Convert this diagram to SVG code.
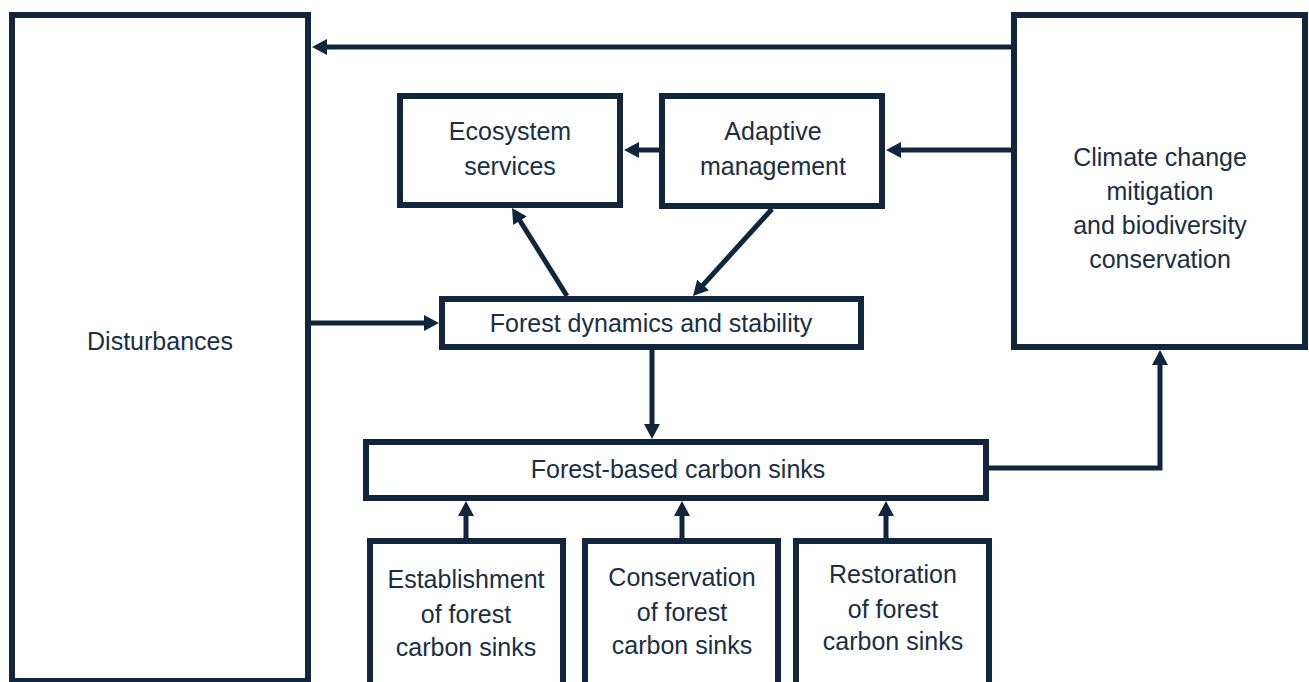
<svg xmlns="http://www.w3.org/2000/svg" width="1309" height="682" viewBox="0 0 1309 682">
<style>
.box{fill:#ffffff;stroke:#11263c;stroke-width:6}
.lbl{font-family:"Liberation Sans",Arial,sans-serif;font-size:25px;fill:#1a2e44;text-anchor:middle}
.con{fill:none;stroke:#11263c;stroke-width:5;marker-end:url(#ah)}
</style>
<defs>
<marker id="ah" viewBox="0 -8 15 16" refX="3" refY="0" markerWidth="15" markerHeight="16" markerUnits="userSpaceOnUse" orient="auto">
<path d="M0,-8 L15,0 L0,8 z" fill="#11263c"/>
</marker>
</defs>
<rect width="1309" height="682" fill="#ffffff"/>
<g id="disturbances"><rect class="box" x="12" y="15" width="296" height="666"/><text class="lbl" x="160" y="350">Disturbances</text></g>
<g id="climate"><rect class="box" x="1014" y="15" width="291" height="332"/>
<text class="lbl" x="1160" y="166">Climate change</text><text class="lbl" x="1160" y="200">mitigation</text><text class="lbl" x="1160" y="234">and biodiversity</text><text class="lbl" x="1160" y="268">conservation</text></g>
<g id="ecosystem"><rect class="box" x="400" y="96" width="220" height="109"/><text class="lbl" x="510" y="140">Ecosystem</text><text class="lbl" x="510" y="175">services</text></g>
<g id="adaptive"><rect class="box" x="662" y="96" width="220" height="110"/><text class="lbl" x="773" y="140">Adaptive</text><text class="lbl" x="773" y="175">management</text></g>
<g id="dynamics"><rect class="box" x="442" y="299" width="419" height="48"/><text class="lbl" x="651" y="332">Forest dynamics and stability</text></g>
<g id="sinks"><rect class="box" x="366" y="442" width="620" height="56"/><text class="lbl" x="678" y="478">Forest-based carbon sinks</text></g>
<g id="establishment"><rect class="box" x="370" y="541" width="193" height="160"/><text class="lbl" x="466" y="588">Establishment</text><text class="lbl" x="466" y="623">of forest</text><text class="lbl" x="466" y="656">carbon sinks</text></g>
<g id="conservation"><rect class="box" x="585" y="541" width="193" height="160"/><text class="lbl" x="682" y="586">Conservation</text><text class="lbl" x="682" y="621">of forest</text><text class="lbl" x="682" y="654">carbon sinks</text></g>
<g id="restoration"><rect class="box" x="796" y="541" width="193" height="160"/><text class="lbl" x="893" y="583">Restoration</text><text class="lbl" x="893" y="618">of forest</text><text class="lbl" x="893" y="650">carbon sinks</text></g>
<g id="connectors">
<path class="con" d="M1011,47 H324"/>
<path class="con" d="M1011,150 H898"/>
<path class="con" d="M659,150 H636"/>
<path class="con" d="M311,323 H427"/>
<path class="con" d="M567,296 L518.4,218.2"/>
<path class="con" d="M772,209 L701.1,287.1"/>
<path class="con" d="M652,350 V427"/>
<path class="con" d="M466,538 V513"/>
<path class="con" d="M682,538 V513"/>
<path class="con" d="M886,538 V513"/>
<path class="con" d="M988,468 H1160 V362"/>
</g>
</svg>
